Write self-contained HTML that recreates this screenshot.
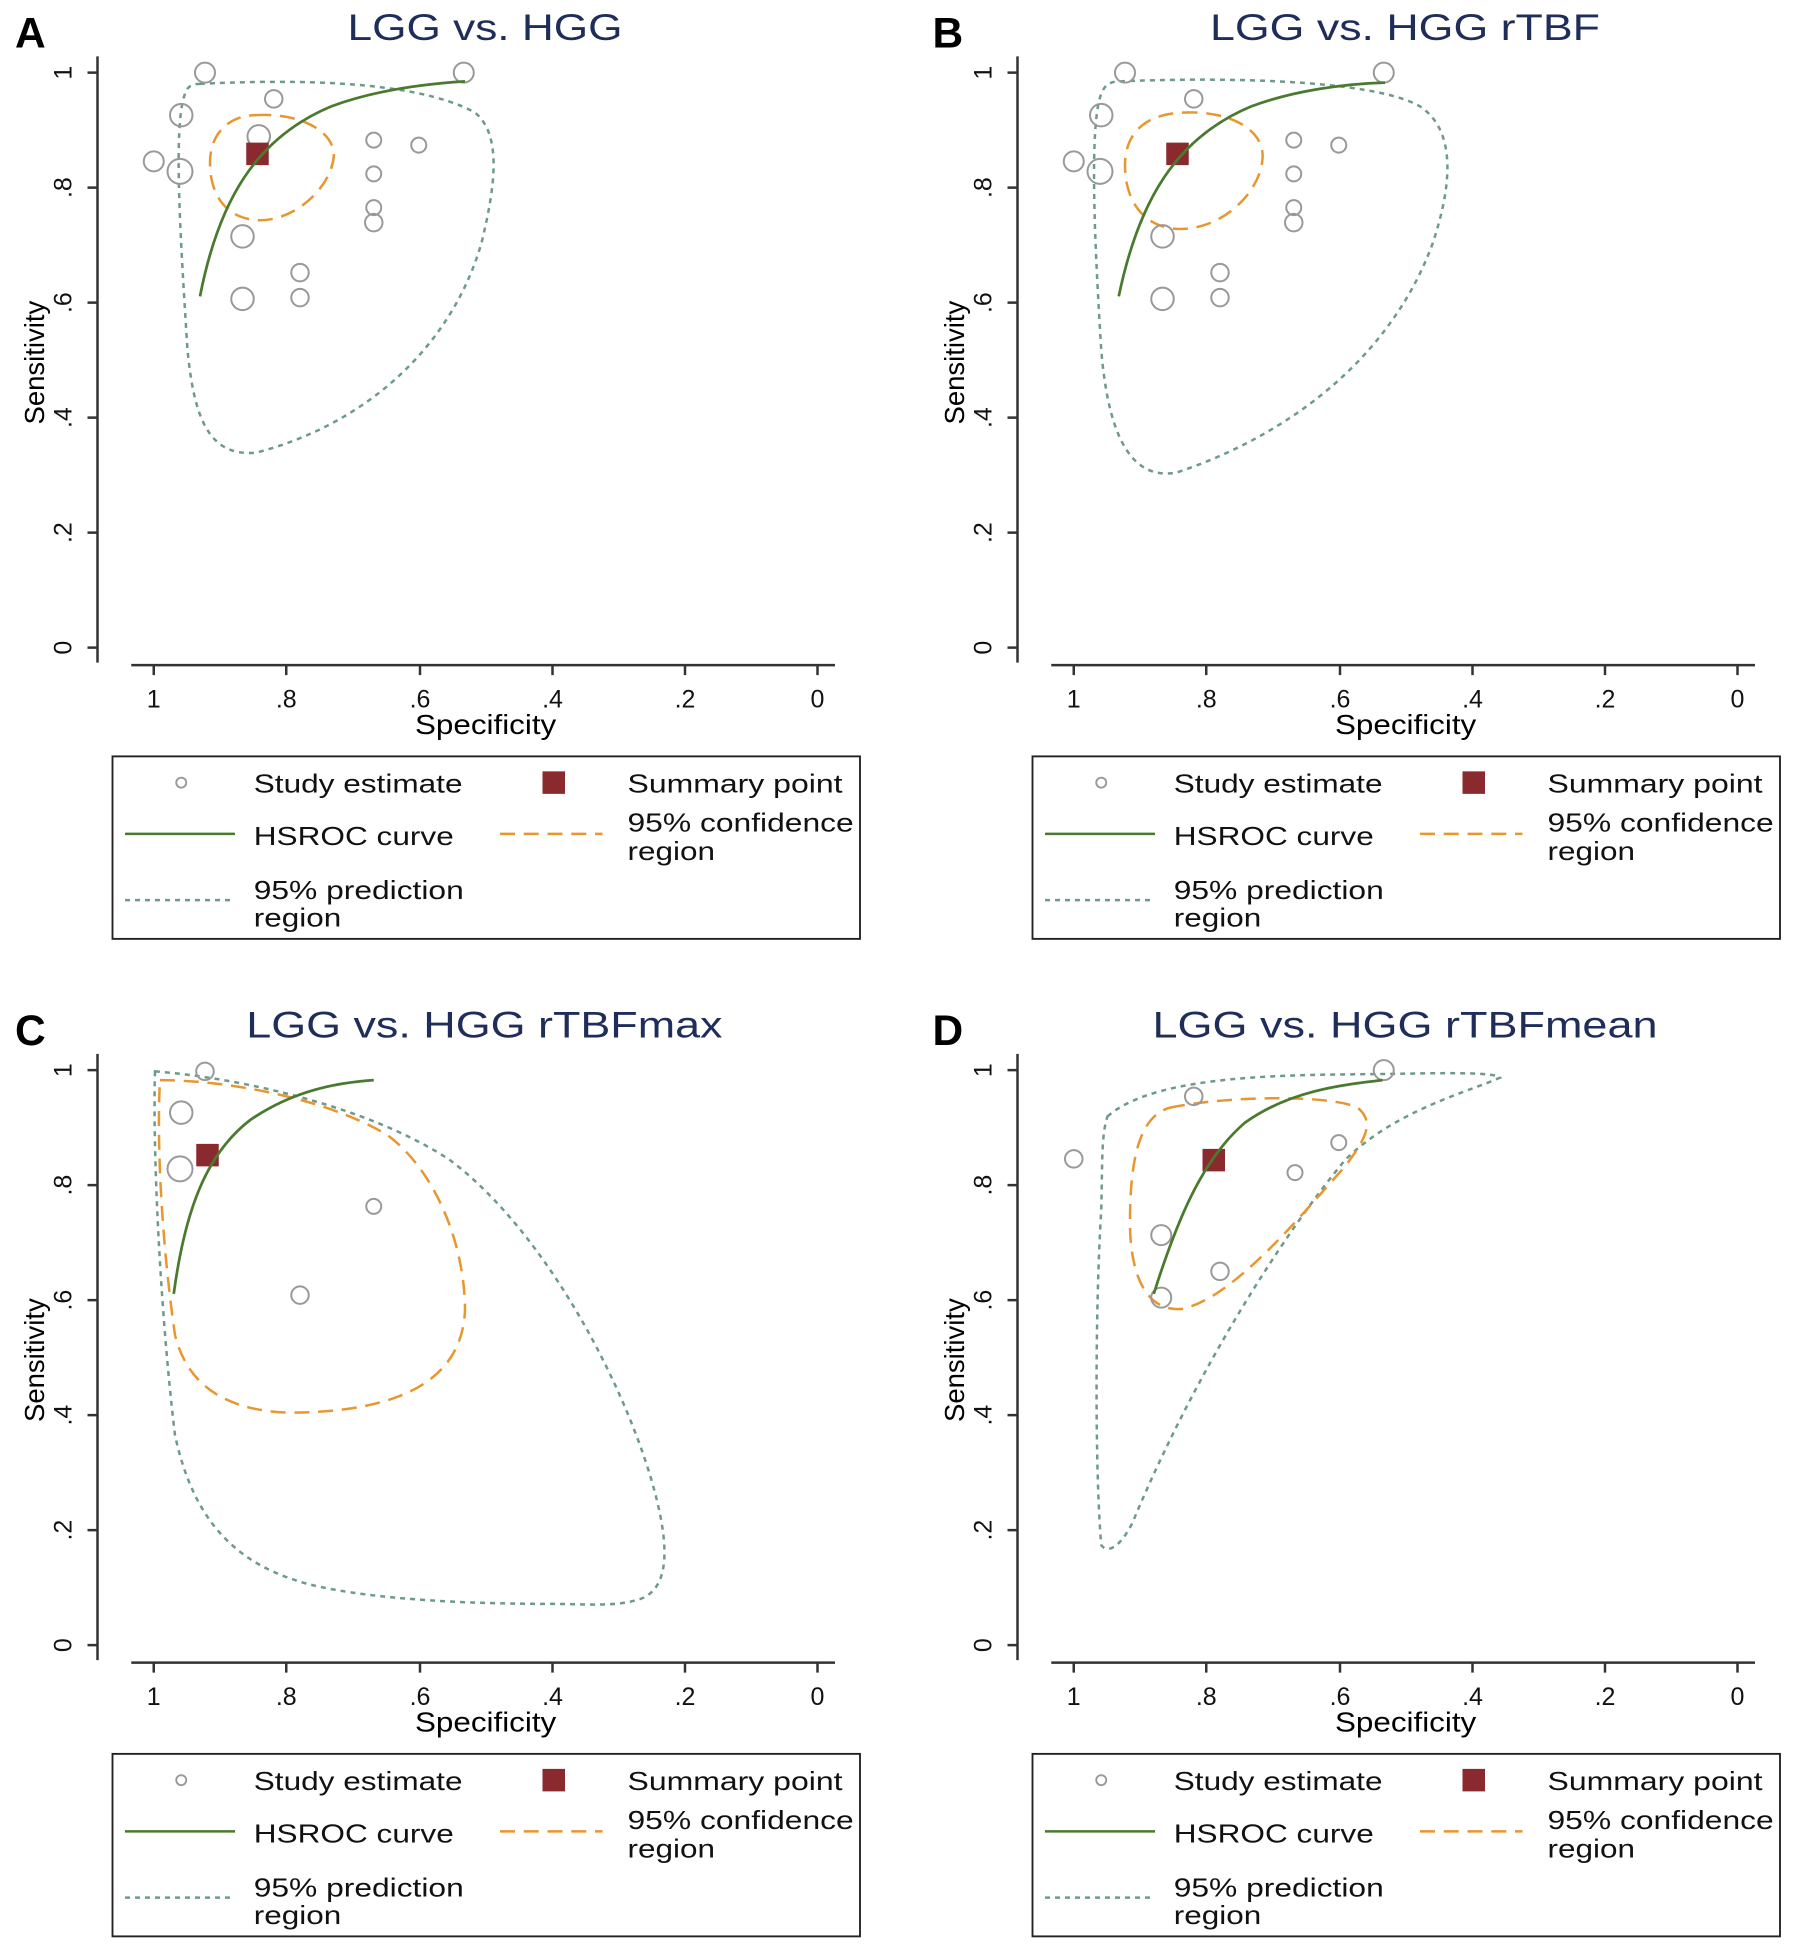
<!DOCTYPE html>
<html><head><meta charset="utf-8"><style>html,body{margin:0;padding:0;background:#fff}svg{display:block}</style></head>
<body>
<svg width="1800" height="1954" viewBox="0 0 1440 1563" xmlns="http://www.w3.org/2000/svg" font-family="Liberation Sans, Arial, sans-serif">
<rect width="1440" height="1563" fill="#fff"/>

<!-- ===== Panel A ===== -->
<g transform="translate(0,0)">
<text x="12" y="38" font-size="34" font-weight="bold">A</text>
<text x="278" y="32" font-size="30" fill="#1f2d5a" textLength="220" lengthAdjust="spacingAndGlyphs">LGG vs. HGG</text>
<g stroke="#333" stroke-width="2" fill="none">
<path d="M78,45V530M70,58H78M70,150H78M70,242H78M70,334H78M70,426H78M70,518H78"/>
<path d="M105,532H668M123,532V540M229,532V540M336,532V540M442,532V540M548,532V540M654,532V540"/>
</g>
<g font-size="20" text-anchor="middle" fill="#111">
<text transform="translate(57,58) rotate(-90)">1</text><text transform="translate(57,150) rotate(-90)">.8</text><text transform="translate(57,242) rotate(-90)">.6</text><text transform="translate(57,334) rotate(-90)">.4</text><text transform="translate(57,426) rotate(-90)">.2</text><text transform="translate(57,518) rotate(-90)">0</text>
<text x="123" y="566">1</text><text x="229" y="566">.8</text><text x="336" y="566">.6</text><text x="442" y="566">.4</text><text x="548" y="566">.2</text><text x="654" y="566">0</text>
</g>
<text x="332" y="587" font-size="22" textLength="113" lengthAdjust="spacingAndGlyphs">Specificity</text>
<text transform="translate(35,290) rotate(-90)" font-size="22" text-anchor="middle">Sensitivity</text>
<path d="M160,67 C220,64 330,62 380,90 C402,108 396,150 385,195 C360,280 290,340 205,362 C165,366 155,330 150,280 C145,200 138,100 148,75 C150,68 155,67 160,67Z" fill="none" stroke="#6e9a8a" stroke-width="2" stroke-dasharray="4,4"/>
<path d="M205,92 C240,90 268,105 267,125 C265,150 235,178 205,176 C180,174 168,155 168,130 C168,105 185,92 205,92Z" fill="none" stroke="#e8962e" stroke-width="2" stroke-dasharray="12,7"/>
<g fill="none" stroke="#999" stroke-width="1.6">
<circle cx="123" cy="129" r="8"/><circle cx="145" cy="92" r="9"/><circle cx="144" cy="137" r="10"/><circle cx="164" cy="58" r="8"/><circle cx="219" cy="79" r="7"/><circle cx="207" cy="109" r="9"/><circle cx="194" cy="189" r="9"/><circle cx="194" cy="239" r="9"/><circle cx="240" cy="218" r="7"/><circle cx="240" cy="238" r="7"/><circle cx="299" cy="112" r="6"/><circle cx="299" cy="139" r="6"/><circle cx="299" cy="166" r="6"/><circle cx="299" cy="178" r="7"/><circle cx="335" cy="116" r="6"/><circle cx="371" cy="58" r="8"/>
</g>
<rect x="197" y="114" width="18" height="18" fill="#8b2a2e"/>
<path d="M160,237 C175,160 205,110 265,85 C300,72 340,67 372,65" fill="none" stroke="#4a7a2e" stroke-width="2.2"/>
<rect x="90" y="605" width="598" height="146" fill="none" stroke="#222" stroke-width="1.5"/>
<circle cx="145" cy="626" r="4" fill="none" stroke="#999" stroke-width="1.5"/>
<rect x="434" y="617" width="18" height="18" fill="#8b2a2e"/>
<path d="M100,667H188" stroke="#4a7a2e" stroke-width="2"/>
<path d="M400,667H482" stroke="#e8962e" stroke-width="2" stroke-dasharray="12,7"/>
<path d="M100,720H185" stroke="#6e9a8a" stroke-width="2" stroke-dasharray="4,4"/>
<g font-size="21" fill="#111" lengthAdjust="spacingAndGlyphs">
<text x="203" y="634" textLength="167" lengthAdjust="spacingAndGlyphs">Study estimate</text><text x="502" y="634" textLength="172" lengthAdjust="spacingAndGlyphs">Summary point</text>
<text x="203" y="676" textLength="160" lengthAdjust="spacingAndGlyphs">HSROC curve</text><text x="502" y="665" textLength="181" lengthAdjust="spacingAndGlyphs">95% confidence</text><text x="502" y="688" textLength="70" lengthAdjust="spacingAndGlyphs">region</text>
<text x="203" y="719" textLength="168" lengthAdjust="spacingAndGlyphs">95% prediction</text><text x="203" y="741" textLength="70" lengthAdjust="spacingAndGlyphs">region</text>
</g>
</g>

<!-- ===== Panel B ===== -->
<g transform="translate(736,0)">
<text x="10" y="38" font-size="34" font-weight="bold">B</text>
<text x="232" y="32" font-size="30" fill="#1f2d5a" textLength="312" lengthAdjust="spacingAndGlyphs">LGG vs. HGG rTBF</text>
<g stroke="#333" stroke-width="2" fill="none">
<path d="M78,45V530M70,58H78M70,150H78M70,242H78M70,334H78M70,426H78M70,518H78"/>
<path d="M105,532H668M123,532V540M229,532V540M336,532V540M442,532V540M548,532V540M654,532V540"/>
</g>
<g font-size="20" text-anchor="middle" fill="#111">
<text transform="translate(57,58) rotate(-90)">1</text><text transform="translate(57,150) rotate(-90)">.8</text><text transform="translate(57,242) rotate(-90)">.6</text><text transform="translate(57,334) rotate(-90)">.4</text><text transform="translate(57,426) rotate(-90)">.2</text><text transform="translate(57,518) rotate(-90)">0</text>
<text x="123" y="566">1</text><text x="229" y="566">.8</text><text x="336" y="566">.6</text><text x="442" y="566">.4</text><text x="548" y="566">.2</text><text x="654" y="566">0</text>
</g>
<text x="332" y="587" font-size="22" textLength="113" lengthAdjust="spacingAndGlyphs">Specificity</text>
<text transform="translate(35,290) rotate(-90)" font-size="22" text-anchor="middle">Sensitivity</text>
<path d="M160,65 C230,62 360,62 400,85 C430,105 425,150 410,195 C375,290 290,350 205,378 C165,385 150,340 145,280 C140,200 135,100 145,75 C148,67 153,65 160,65Z" fill="none" stroke="#6e9a8a" stroke-width="2" stroke-dasharray="4,4"/>
<path d="M210,90 C250,88 276,105 274,127 C272,155 240,185 205,183 C178,181 164,160 164,132 C164,105 182,91 210,90Z" fill="none" stroke="#e8962e" stroke-width="2" stroke-dasharray="12,7"/>
<g fill="none" stroke="#999" stroke-width="1.6">
<circle cx="123" cy="129" r="8"/><circle cx="145" cy="92" r="9"/><circle cx="144" cy="137" r="10"/><circle cx="164" cy="58" r="8"/><circle cx="219" cy="79" r="7"/><circle cx="194" cy="189" r="9"/><circle cx="194" cy="239" r="9"/><circle cx="240" cy="218" r="7"/><circle cx="240" cy="238" r="7"/><circle cx="299" cy="112" r="6"/><circle cx="299" cy="139" r="6"/><circle cx="299" cy="166" r="6"/><circle cx="299" cy="178" r="7"/><circle cx="335" cy="116" r="6"/><circle cx="371" cy="58" r="8"/>
</g>
<rect x="197" y="114" width="18" height="18" fill="#8b2a2e"/>
<path d="M159,237 C175,160 205,110 265,85 C300,72 340,67 372,66" fill="none" stroke="#4a7a2e" stroke-width="2.2"/>
<rect x="90" y="605" width="598" height="146" fill="none" stroke="#222" stroke-width="1.5"/>
<circle cx="145" cy="626" r="4" fill="none" stroke="#999" stroke-width="1.5"/>
<rect x="434" y="617" width="18" height="18" fill="#8b2a2e"/>
<path d="M100,667H188" stroke="#4a7a2e" stroke-width="2"/>
<path d="M400,667H482" stroke="#e8962e" stroke-width="2" stroke-dasharray="12,7"/>
<path d="M100,720H185" stroke="#6e9a8a" stroke-width="2" stroke-dasharray="4,4"/>
<g font-size="21" fill="#111">
<text x="203" y="634" textLength="167" lengthAdjust="spacingAndGlyphs">Study estimate</text><text x="502" y="634" textLength="172" lengthAdjust="spacingAndGlyphs">Summary point</text>
<text x="203" y="676" textLength="160" lengthAdjust="spacingAndGlyphs">HSROC curve</text><text x="502" y="665" textLength="181" lengthAdjust="spacingAndGlyphs">95% confidence</text><text x="502" y="688" textLength="70" lengthAdjust="spacingAndGlyphs">region</text>
<text x="203" y="719" textLength="168" lengthAdjust="spacingAndGlyphs">95% prediction</text><text x="203" y="741" textLength="70" lengthAdjust="spacingAndGlyphs">region</text>
</g>
</g>

<!-- ===== Panel C ===== -->
<g transform="translate(0,798)">
<text x="12" y="38" font-size="34" font-weight="bold">C</text>
<text x="197" y="32" font-size="30" fill="#1f2d5a" textLength="381" lengthAdjust="spacingAndGlyphs">LGG vs. HGG rTBFmax</text>
<g stroke="#333" stroke-width="2" fill="none">
<path d="M78,45V530M70,58H78M70,150H78M70,242H78M70,334H78M70,426H78M70,518H78"/>
<path d="M105,532H668M123,532V540M229,532V540M336,532V540M442,532V540M548,532V540M654,532V540"/>
</g>
<g font-size="20" text-anchor="middle" fill="#111">
<text transform="translate(57,58) rotate(-90)">1</text><text transform="translate(57,150) rotate(-90)">.8</text><text transform="translate(57,242) rotate(-90)">.6</text><text transform="translate(57,334) rotate(-90)">.4</text><text transform="translate(57,426) rotate(-90)">.2</text><text transform="translate(57,518) rotate(-90)">0</text>
<text x="123" y="566">1</text><text x="229" y="566">.8</text><text x="336" y="566">.6</text><text x="442" y="566">.4</text><text x="548" y="566">.2</text><text x="654" y="566">0</text>
</g>
<text x="332" y="587" font-size="22" textLength="113" lengthAdjust="spacingAndGlyphs">Specificity</text>
<text transform="translate(35,290) rotate(-90)" font-size="22" text-anchor="middle">Sensitivity</text>
<path d="M124,59 C200,65 300,90 360,130 C440,190 505,320 525,400 C535,440 535,470 515,480 C495,488 470,485 440,485 C380,485 300,482 250,470 C190,455 155,420 140,350 C128,250 122,120 124,59Z" fill="none" stroke="#6e9a8a" stroke-width="2" stroke-dasharray="4,4"/>
<path d="M128,66 C180,66 260,80 310,110 C350,140 372,200 372,250 C370,300 330,332 230,332 C180,330 150,310 140,270 C130,200 125,120 128,66Z" fill="none" stroke="#e8962e" stroke-width="2" stroke-dasharray="12,7"/>
<g fill="none" stroke="#999" stroke-width="1.6">
<circle cx="164" cy="59" r="7"/><circle cx="145" cy="92" r="9"/><circle cx="144" cy="137" r="10"/><circle cx="299" cy="167" r="6"/><circle cx="240" cy="238" r="7"/>
</g>
<rect x="157" y="117" width="18" height="18" fill="#8b2a2e"/>
<path d="M139,237 C148,170 165,125 200,98 C235,74 270,68 299,66" fill="none" stroke="#4a7a2e" stroke-width="2.2"/>
<rect x="90" y="605" width="598" height="146" fill="none" stroke="#222" stroke-width="1.5"/>
<circle cx="145" cy="626" r="4" fill="none" stroke="#999" stroke-width="1.5"/>
<rect x="434" y="617" width="18" height="18" fill="#8b2a2e"/>
<path d="M100,667H188" stroke="#4a7a2e" stroke-width="2"/>
<path d="M400,667H482" stroke="#e8962e" stroke-width="2" stroke-dasharray="12,7"/>
<path d="M100,720H185" stroke="#6e9a8a" stroke-width="2" stroke-dasharray="4,4"/>
<g font-size="21" fill="#111">
<text x="203" y="634" textLength="167" lengthAdjust="spacingAndGlyphs">Study estimate</text><text x="502" y="634" textLength="172" lengthAdjust="spacingAndGlyphs">Summary point</text>
<text x="203" y="676" textLength="160" lengthAdjust="spacingAndGlyphs">HSROC curve</text><text x="502" y="665" textLength="181" lengthAdjust="spacingAndGlyphs">95% confidence</text><text x="502" y="688" textLength="70" lengthAdjust="spacingAndGlyphs">region</text>
<text x="203" y="719" textLength="168" lengthAdjust="spacingAndGlyphs">95% prediction</text><text x="203" y="741" textLength="70" lengthAdjust="spacingAndGlyphs">region</text>
</g>
</g>

<!-- ===== Panel D ===== -->
<g transform="translate(736,798)">
<text x="10" y="38" font-size="34" font-weight="bold">D</text>
<text x="186" y="32" font-size="30" fill="#1f2d5a" textLength="404" lengthAdjust="spacingAndGlyphs">LGG vs. HGG rTBFmean</text>
<g stroke="#333" stroke-width="2" fill="none">
<path d="M78,45V530M70,58H78M70,150H78M70,242H78M70,334H78M70,426H78M70,518H78"/>
<path d="M105,532H668M123,532V540M229,532V540M336,532V540M442,532V540M548,532V540M654,532V540"/>
</g>
<g font-size="20" text-anchor="middle" fill="#111">
<text transform="translate(57,58) rotate(-90)">1</text><text transform="translate(57,150) rotate(-90)">.8</text><text transform="translate(57,242) rotate(-90)">.6</text><text transform="translate(57,334) rotate(-90)">.4</text><text transform="translate(57,426) rotate(-90)">.2</text><text transform="translate(57,518) rotate(-90)">0</text>
<text x="123" y="566">1</text><text x="229" y="566">.8</text><text x="336" y="566">.6</text><text x="442" y="566">.4</text><text x="548" y="566">.2</text><text x="654" y="566">0</text>
</g>
<text x="332" y="587" font-size="22" textLength="113" lengthAdjust="spacingAndGlyphs">Specificity</text>
<text transform="translate(35,290) rotate(-90)" font-size="22" text-anchor="middle">Sensitivity</text>
<path d="M150,95 C190,60 300,62 380,61 C430,60 460,60 464,64 C440,75 380,90 340,130 C290,190 220,300 170,420 C160,440 150,445 145,438 C140,380 140,250 145,170 C146,130 145,110 150,95Z" fill="none" stroke="#6e9a8a" stroke-width="2" stroke-dasharray="4,4"/>
<path d="M200,88 C250,78 330,78 350,88 C365,100 355,115 340,135 C300,180 250,240 210,249 C180,252 168,220 168,180 C168,130 175,95 200,88Z" fill="none" stroke="#e8962e" stroke-width="2" stroke-dasharray="12,7"/>
<g fill="none" stroke="#999" stroke-width="1.6">
<circle cx="123" cy="129" r="7"/><circle cx="219" cy="79" r="7"/><circle cx="371" cy="58" r="8"/><circle cx="335" cy="116" r="6"/><circle cx="300" cy="140" r="6"/><circle cx="193" cy="190" r="8"/><circle cx="240" cy="219" r="7"/><circle cx="193" cy="240" r="8"/>
</g>
<rect x="226" y="121" width="18" height="18" fill="#8b2a2e"/>
<path d="M187,237 C205,180 225,130 260,100 C295,75 335,70 370,66" fill="none" stroke="#4a7a2e" stroke-width="2.2"/>
<rect x="90" y="605" width="598" height="146" fill="none" stroke="#222" stroke-width="1.5"/>
<circle cx="145" cy="626" r="4" fill="none" stroke="#999" stroke-width="1.5"/>
<rect x="434" y="617" width="18" height="18" fill="#8b2a2e"/>
<path d="M100,667H188" stroke="#4a7a2e" stroke-width="2"/>
<path d="M400,667H482" stroke="#e8962e" stroke-width="2" stroke-dasharray="12,7"/>
<path d="M100,720H185" stroke="#6e9a8a" stroke-width="2" stroke-dasharray="4,4"/>
<g font-size="21" fill="#111">
<text x="203" y="634" textLength="167" lengthAdjust="spacingAndGlyphs">Study estimate</text><text x="502" y="634" textLength="172" lengthAdjust="spacingAndGlyphs">Summary point</text>
<text x="203" y="676" textLength="160" lengthAdjust="spacingAndGlyphs">HSROC curve</text><text x="502" y="665" textLength="181" lengthAdjust="spacingAndGlyphs">95% confidence</text><text x="502" y="688" textLength="70" lengthAdjust="spacingAndGlyphs">region</text>
<text x="203" y="719" textLength="168" lengthAdjust="spacingAndGlyphs">95% prediction</text><text x="203" y="741" textLength="70" lengthAdjust="spacingAndGlyphs">region</text>
</g>
</g>
</svg>
</body></html>
